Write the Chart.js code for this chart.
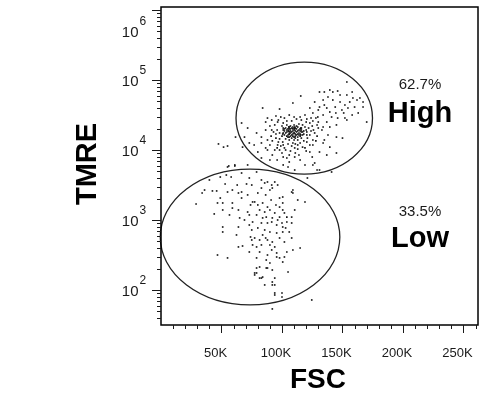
<!DOCTYPE html>
<html>
<head>
<meta charset="utf-8">
<script src="https://cdn.jsdelivr.net/npm/chart.js@4.4.1/dist/chart.umd.min.js"></script>
<style>
  html, body { margin: 0; padding: 0; background: #fff; }
  canvas { display: block; }
</style>
</head>
<body>
<canvas id="chart" width="488" height="396"></canvas>
<script>
// axes
const fscMin = 0, fscMax = 262;            // FSC in K
const tmreMin = 31.6, tmreMax = 1.104e6;   // TMRE, log
const fscTicks = [50, 100, 150, 200, 250];
const fscTickLabels = ['50K', '100K', '150K', '200K', '250K'];
const tmreExponents = [2, 3, 4, 5, 6];

// gates (ellipses): centre + radius in FSC (K), centre + radius in decades for TMRE
const gateNames = ['High', 'Low'];
const gatePercents = ['62.7%', '33.5%'];
const gateFsc = [118.4, 73.6];
const gateFscRadius = [56.4, 74.2];
const gateTmre = [28600, 572];
const gateTmreDecades = [0.8, 0.97];

// events [FSC (K), TMRE]
const highEvents = [
  [103,20600],[105,18700],[106,20000],[108,18100],[110,19300],[111,20600],[113,18700],[115,20000],
  [106,16900],[107,15800],[109,16900],[110,17500],[112,16400],[114,17500],[116,18100],[104,18100],
  [102,16400],[106,21300],[109,21300],[112,22000],[116,20600],[118,18700],[101,19300],[101,17500],
  [105,15300],[108,14800],[111,14800],[115,15800],[117,16400],[103,14400],[110,13900],[107,22000],
  [114,23500],[110,22800],[100,15800],[106,18100],[111,18700],[105,20000],[115,16900],[101,20600],
  [119,21300],[120,19300],[98,17500],[106,13900],[113,13900],[116,14800],[104,22800],[109,20000],
  [112,20000],[107,18700],
  [104,19300],[105.6,18700],[107,20000],[109,18700],[110.5,20000],[112,18100],[114,19300],[115.5,20600],
  [103,17500],[105,16400],[106,16900],[108,16400],[110,17500],[111,16900],[113,16900],[115,18700],
  [117,18100],[116,19300],[105.6,21300],[108,20600],[110.5,21300],[113,21300],[102,18700],[104,15800],
  [106,15300],[110,15300],[113,15300],[100.6,16900],[118,16900],[110,20600],[107,17500],[111,15800],
  [102,20000],[114,16400],[115.5,16400],[109,15800],
  [94,22800],[96,19300],[95,14800],[97,13000],[99,11400],[96,10700],[101,11800],[105,12200],
  [108,11400],[111,12200],[115,12600],[118,13500],[121,14800],[123,16400],[122,20600],[125,22000],
  [120,25100],[116,26800],[112,27700],[108,26000],[104,26000],[101,24300],[97,26800],[93,18100],
  [91,15800],[92,13500],[98,10000],[103,10000],[107,9670],[113,10300],[117,11000],[120,9670],
  [111,9060],[106,8480],[100,9060],[94,10000],[88,13900],[86.5,19300],[90,22000],[126,19300],
  [129,15800],[125.5,13900],[130,25100],[128,28600],[124,28600],[102,28600],[106,31600],[95,30600],
  [86.5,10700],[83,12600],[96,7200],[106,6740],[115,7200],[119,6110],[125,7940],[101,6110],
  [90,7200],[83,7690],[77,11800],[79,17500],
  [84,39800],[98,38500],[115.5,59100],[109,46900],[88,28600],[66.6,24300],[71.6,20600],[61.6,15300],
  [69,15300],[73,12600],[83,15300],[90,11800],[67.4,11000],[80,9360],[92,8480],[101,7940],
  [110.5,7940],[105,5720],[61,6110],[71.6,6110],[47.5,12200],[51.7,11000],[55,11400],[56,5910],
  [66.6,4690],[110.5,5180],[125.5,6110],[129,5180],[141,4850],
  [153.6,93600],[131,67400],[135,67400],[139.5,72000],[142,67400],[146,69600],[153.6,61100],[158.6,55300],
  [164.4,55300],[167,48500],[127,48500],[134,51800],[142,51800],[148,48500],[156,48500],[123,39800],
  [131,41100],[137,39800],[144,41100],[149.5,37300],[154.5,39800],[160,41100],[167,41100],[119,31600],
  [125.5,33800],[129.6,29600],[134,31600],[141,29600],[146,28600],[152,28600],[158,31600],[163,33800],
  [117,22800],[123,24300],[129,22800],[134,21300],[139.5,21300],[145,22800],[153.6,26800],[170,25100],
  [120.5,18100],[127,17500],[133,19300],[138,16400],[145,15300],[150,14800],[120.5,13000],[125.5,11800],
  [134,12600],[139.5,11000],[131,9360],[137,8480],[145,9060],[127,6520],[131,5180],[121,3980],
  [130,37300],[135,43900],[139.5,34900],[148,61100],[152,43900],[158,67400],[162,51800],[138,57200],
  [144.5,33800],[151,33800],
  [91.5,26800],[99,29600],[110,29600],[115,29600],[120.5,27700],[125.5,26000],[130,20600],[128,13500],
  [123,11800],[119,10700],[110.5,10700],[102,10700],[96.4,11800],[91.5,19300],[95,16900],[98,14400],
  [100.6,13000],[109,12600],[113,11800],[120.5,16400],[124,18700],[100,22000],[96.4,25100],[86.5,25100],
  [88,10000],[104,7690],[114,8480],[123,9360],[135,13900],[137,25100]
];

const lowEvents = [
  [49,4110],[54,4390],[58,4110],[73,3980],[36,2680],[34,2430],[42.5,2600],[46,2600],
  [53,3270],[55,2510],[59,2680],[63,3160],[64,2430],[66.6,2510],[70.7,3270],[75,3160],
  [29,1690],[49,2060],[46.7,1750],[51,1750],[59,1750],[66.6,2060],[75.7,1810],[44,1220],
  [51,1390],[59,1480],[64,1390],[71.6,1300],[74,1640],[65,1070],[69,1000],[73,1180],
  [51,794],[51,674],[64,794],[73,848],[75,720],[74,572],[75,518],[75.7,440],
  [64,412],[67.4,425],[73,349],[46.7,316],[55,287],[77.4,175],[61,5910],[55,5720],
  [108,2510],[108,553],[100,79.4],[92,53.6],[94,90.6],[77.4,164],[81.5,148],[79,206],
  [87,206],[92,130],[92,118],[84,153],[62.4,611],
  [79,4850],[83,3730],[85.7,3380],[88,3490],[91.5,3160],[94,3490],[92,2860],[96.4,3160],
  [90,2680],[109,2680],[109,2430],[113,1930],[119,1810],[100.6,2130],[98,2060],[77.4,1810],
  [80,1640],[84,1750],[88,1530],[81.5,1390],[85.7,1300],[90,1390],[94,1260],[98,1530],
  [100.6,1390],[79,1180],[87,1100],[92,1070],[98,1100],[104,1100],[108,1100],[75.7,936],
  [83,906],[88,906],[91.5,936],[95.6,848],[100,906],[104,936],[108,906],[80,769],
  [85.7,720],[90,674],[95.6,652],[100.6,674],[84,611],[77.4,553],[81.5,518],[88,518],
  [92,485],[98,553],[90,440],[94,412],[91.5,373],[95.6,338],[81.5,349],[79,412],
  [104,349],[115,398],[98,287],[95.6,296],[87,268],[79,287],[81.5,213],[88,206],
  [92,193],[79,175],[83,148],[94,148],[105,181],[94,118],[94,84.8],[100,90.6],
  [124.6,72],[109,373],[102,296],[100.6,794],[100.6,1750],
  [83,2860],[86.5,2280],[91,1930],[95,1640],[102,1260],[84,1070],[96.4,1000],[103,769],
  [86.5,553],[102,485],[83,440],[88,316],[100.6,251],[90,243],[85.7,118],[106,674],
  [110.5,1390],[80,2430],[71.6,2280],[56.6,1180],[40,3730]
];

const toPoints = arr => arr.map(p => ({ x: p[0], y: p[1] }));

const ink = '#1a1a1a';

const flowPlugin = {
  id: 'flowAxes',
  afterDatasetsDraw(chart) {
    const ctx = chart.ctx;
    const area = chart.chartArea;
    const xs = chart.scales.x;
    const ys = chart.scales.y;
    ctx.save();

    // gates
    ctx.strokeStyle = '#222';
    ctx.lineWidth = 1.3;
    for (let i = 0; i < gateNames.length; i++) {
      const cx = xs.getPixelForValue(gateFsc[i]);
      const rx = xs.getPixelForValue(gateFsc[i] + gateFscRadius[i]) - cx;
      const cy = ys.getPixelForValue(gateTmre[i]);
      const ry = cy - ys.getPixelForValue(gateTmre[i] * Math.pow(10, gateTmreDecades[i]));
      ctx.beginPath();
      ctx.ellipse(cx, cy, rx, ry, 0, 0, Math.PI * 2);
      ctx.stroke();
    }

    // frame
    ctx.strokeStyle = '#000';
    ctx.lineWidth = 1.5;
    ctx.strokeRect(area.left, area.top, area.right - area.left, area.bottom - area.top);

    // x ticks (minor every 10K)
    ctx.lineWidth = 1;
    ctx.strokeStyle = ink;
    ctx.beginPath();
    for (let v = 10; v <= fscMax; v += 10) {
      const px = Math.round(xs.getPixelForValue(v)) + 0.5;
      const len = fscTicks.includes(v) ? 8 : 4;
      ctx.moveTo(px, area.bottom);
      ctx.lineTo(px, area.bottom + len);
    }
    // y ticks (log minors)
    for (let d = 1; d <= 6; d++) {
      for (let m = 1; m <= 9; m++) {
        const v = m * Math.pow(10, d);
        if (v < tmreMin || v > tmreMax) continue;
        const py = Math.round(ys.getPixelForValue(v)) + 0.5;
        const len = m === 1 ? 9 : 4;
        ctx.moveTo(area.left, py);
        ctx.lineTo(area.left - len, py);
      }
    }
    ctx.stroke();

    // x tick labels
    ctx.fillStyle = ink;
    ctx.font = '13px "Liberation Sans", Arial, sans-serif';
    ctx.textAlign = 'center';
    ctx.textBaseline = 'alphabetic';
    fscTicks.forEach((v, i) => {
      ctx.fillText(fscTickLabels[i], xs.getPixelForValue(v) - 6, 357);
    });

    // y tick labels: 10^n
    tmreExponents.forEach(e => {
      let py = ys.getPixelForValue(Math.pow(10, e));
      py = Math.max(py, area.top + 23.5);
      ctx.font = '15px "Liberation Sans", Arial, sans-serif';
      ctx.textAlign = 'right';
      ctx.fillText('10', 138.5, py + 6);
      ctx.font = '12px "Liberation Sans", Arial, sans-serif';
      ctx.textAlign = 'left';
      ctx.fillText(String(e), 139.5, py - 6);
    });

    // axis titles
    ctx.fillStyle = '#000';
    ctx.font = 'bold 28px "Liberation Sans", Arial, sans-serif';
    ctx.textAlign = 'center';
    ctx.fillText('FSC', 318, 388);
    ctx.save();
    ctx.translate(95.5, 164);
    ctx.rotate(-Math.PI / 2);
    ctx.font = 'bold 29px "Liberation Sans", Arial, sans-serif';
    ctx.fillText('TMRE', 0, 0);
    ctx.restore();

    // gate labels
    const labelY = [[88.5, 121.5], [216, 247]];
    for (let i = 0; i < gateNames.length; i++) {
      ctx.fillStyle = ink;
      ctx.font = '15px "Liberation Sans", Arial, sans-serif';
      ctx.fillText(gatePercents[i], 420, labelY[i][0]);
      ctx.fillStyle = '#000';
      ctx.font = 'bold 29px "Liberation Sans", Arial, sans-serif';
      ctx.fillText(gateNames[i], 420, labelY[i][1]);
    }
    ctx.restore();
  }
};

const dotStyle = {
  pointStyle: 'rect',
  pointRadius: 1.15,
  pointHoverRadius: 1.15,
  pointBorderWidth: 0,
  backgroundColor: '#111',
  borderColor: '#111'
};

new Chart(document.getElementById('chart'), {
  type: 'scatter',
  data: {
    datasets: [
      Object.assign({ label: 'High', data: toPoints(highEvents) }, dotStyle),
      Object.assign({ label: 'Low', data: toPoints(lowEvents) }, dotStyle)
    ]
  },
  options: {
    responsive: false,
    animation: false,
    devicePixelRatio: 1,
    layout: { padding: { left: 161, top: 7, right: 10, bottom: 71 } },
    plugins: { legend: { display: false }, tooltip: { enabled: false } },
    scales: {
      x: { type: 'linear', min: fscMin, max: fscMax, display: false },
      y: { type: 'logarithmic', min: tmreMin, max: tmreMax, display: false }
    }
  },
  plugins: [flowPlugin]
});
</script>
</body>
</html>
